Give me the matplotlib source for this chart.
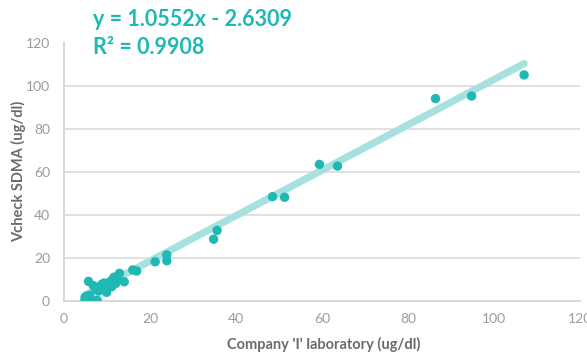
import numpy as np
import matplotlib.pyplot as plt

# Paired SDMA measurements (ug/dl): reference lab vs Vcheck
lab_x = [4.9, 4.9, 5.3, 5.8, 5.9, 6.0, 7.7, 5.7, 6.8, 7.5, 8.0, 8.5, 8.8,
         9.3, 9.5, 9.9, 10.2, 10.7, 11.1, 11.3, 11.6, 12.0, 12.4, 12.9,
         11.9, 14.0, 16.0, 16.9, 21.2, 23.9, 23.9, 34.8, 35.6, 48.5, 51.3,
         59.4, 63.6, 86.4, 94.8, 107.0]
vcheck_y = [0.3, 1.5, 2.2, 0.2, 1.0, 2.5, 0.2, 9.0, 7.0, 5.5, 4.5, 6.8, 7.6,
            8.2, 5.5, 3.9, 7.2, 8.8, 6.5, 9.8, 10.9, 8.0, 11.2, 12.7,
            8.8, 8.8, 14.3, 13.8, 18.1, 21.3, 18.6, 28.6, 32.7, 48.4, 48.1,
            63.4, 62.6, 94.0, 95.2, 105.0]

slope = 1.0552
intercept = -2.6309
r2 = 0.9908

x_ticks = [0, 20, 40, 60, 80, 100, 120]
y_ticks = [0, 20, 40, 60, 80, 100, 120]

teal = "#20b8b3"
trend_col = "#a6e1df"
tick_col = "#9c9c9c"
label_col = "#6b6b6b"

plt.rcParams["font.family"] = ["Lato", "DejaVu Sans"]

fig = plt.figure(figsize=(5.87, 3.54), dpi=100)
ax = fig.add_axes([64 / 587, 53.3 / 354, 516 / 587, 258 / 354])

# trend line from the fitted equation
xs = np.array([min(lab_x), max(lab_x)])
ax.plot(xs, slope * xs + intercept, color=trend_col, lw=5.2,
        solid_capstyle="round", zorder=2)
ax.scatter(lab_x, vcheck_y, s=46, color=teal, edgecolors="none", zorder=3)

ax.set_xlim(0, 120)
ax.set_ylim(0, 120)
ax.set_xticks(x_ticks)
ax.set_yticks(y_ticks)
ax.tick_params(length=0, labelsize=10, colors=tick_col)
ax.tick_params(axis="y", pad=10)
ax.tick_params(axis="x", pad=9)

for y in y_ticks[1:-1]:
    ax.axhline(y, color="#dcdcdc", lw=1.2, zorder=1)
for side in ["top", "right"]:
    ax.spines[side].set_visible(False)
ax.spines["bottom"].set_color("#d6d6d6")
ax.spines["bottom"].set_linewidth(1.3)
ax.spines["left"].set_color("#d6d6d6")
ax.spines["left"].set_linewidth(1.3)

ax.set_xlabel("Company 'I' laboratory (ug/dl)", fontsize=10.5, fontweight="bold",
              color=label_col, va="center")
ax.xaxis.set_label_coords(0.504, -0.168)
ax.set_ylabel("Vcheck SDMA (ug/dl)", fontsize=10.5, fontweight="bold",
              color=label_col, va="center")
ax.yaxis.set_label_coords(-0.088, 0.5)

fig.text(93 / 587, 1 - 20 / 354, f"y = {slope}x - {abs(intercept)}",
         fontsize=15.5, fontweight="bold", color=teal, va="center")
fig.text(93 / 587, 1 - 47 / 354, f"R\u00b2 = {r2}",
         fontsize=15.5, fontweight="bold", color=teal, va="center")

fig.savefig("out.png", dpi=100)
